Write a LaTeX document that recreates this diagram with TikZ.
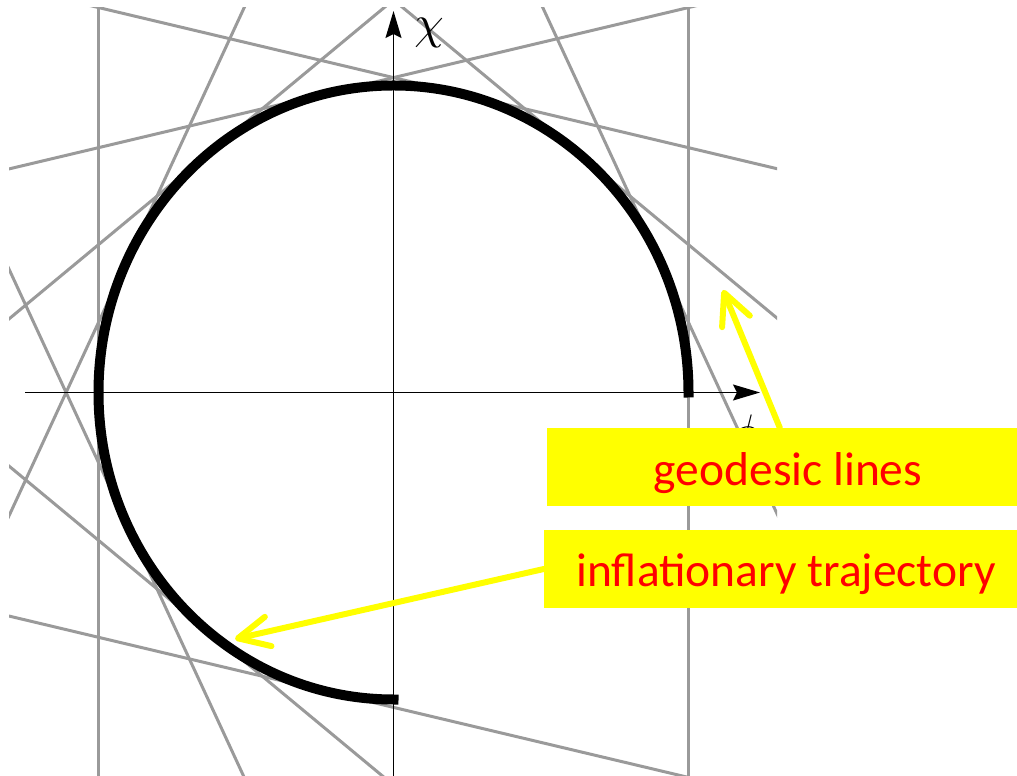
\documentclass[tikz,border=0pt]{standalone}
\usepackage{fontspec}
\newfontfamily\boxfont{Carlito}
\usetikzlibrary{arrows.meta,calc}
\definecolor{geogray}{RGB}{154,154,154}
\definecolor{boxyellow}{RGB}{255,255,0}
\definecolor{boxred}{RGB}{255,0,0}
\tikzset{
 geo/.style={draw=geogray, line width=3pt},
 traj/.style={draw=black, line width=10pt, line cap=rect},
 axis/.style={draw=black, line width=1.3pt, -{Stealth[length=27pt, width=16pt, inset=4pt]}},
 axlabel/.style={inner sep=0pt, anchor=base, scale=4.7},
 labelbox/.style={fill=boxyellow, text=boxred, inner sep=0pt, font=\boxfont\fontsize{47.5}{50}\selectfont},
 yarrow/.style={draw=boxyellow, line width=6pt, line cap=round, -{Straight Barb[length=31pt, width=30pt, round]}},
}
\begin{document}
\begin{tikzpicture}[x=1pt,y=1pt]
\useasboundingbox (0,0) rectangle (1017,776);
\begin{scope}
 \clip (9,0) rectangle (777,768);
 \begin{scope}[shift={(393.5pt,383.5pt)}, x=295pt, y=307pt]
  \foreach \k in {0,...,10}{
    \pgfmathsetmacro{\a}{\k*180/7}
    \draw[geo] ({cos(\a)-3*sin(\a)},{sin(\a)+3*cos(\a)}) -- ({cos(\a)+3*sin(\a)},{sin(\a)-3*cos(\a)});
  }
 \end{scope}
\end{scope}
\coordinate (hx0) at (25,383.5);
\coordinate (hx1) at (760,383.5);
\coordinate (vy0) at (393.5,0);
\coordinate (vy1) at (393.5,765);
\draw[axis] (hx0) -- (hx1);
\draw[axis] (vy0) -- (vy1);
\draw[traj] (688.5,383.5) arc[start angle=0, end angle=270, x radius=295, y radius=307];
\node[axlabel] (chi) at (429,737.5) {$\chi$};
\node[axlabel] (phi) at (745,328) {$\phi$};
\node[labelbox, minimum width=482pt, text height=58pt, text depth=20pt] (box1) at (788,309) {geodesic lines};
\node[labelbox, minimum width=484pt, text height=57pt, text depth=21pt] (box2) at (786,207) {inflationary trajectory};
\coordinate (g1) at (723,486);
\coordinate (g2) at (235,137);
\draw[yarrow] ($(box1.north west)!0.483!(box1.north east)$) -- (g1);
\draw[yarrow] (box2.west) -- (g2);
\end{tikzpicture}
\end{document}
